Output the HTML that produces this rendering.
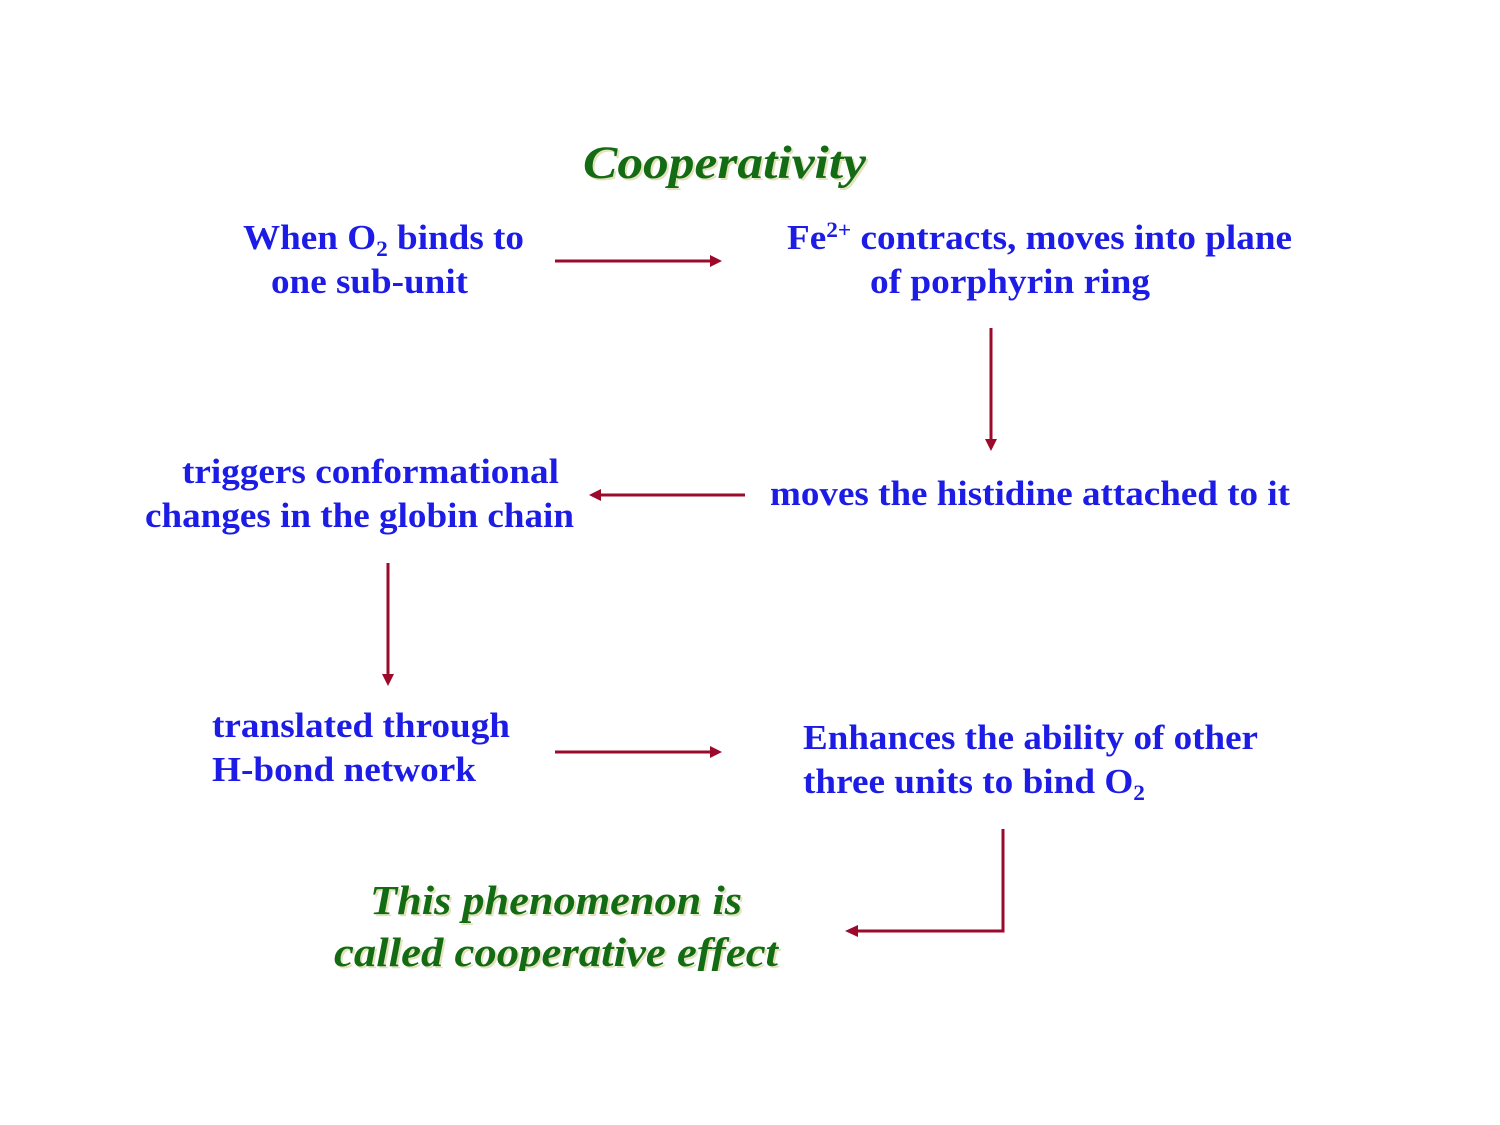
<!DOCTYPE html>
<html><head><meta charset="utf-8"><style>
html,body{margin:0;padding:0;background:#fff;width:1500px;height:1125px;overflow:hidden}
svg{display:block}
.b{font-family:"Liberation Serif",serif;font-weight:bold;font-size:35px;fill:#1c1ce6}
.g{font-family:"Liberation Serif",serif;font-weight:bold;font-style:italic;fill:#136b13}
.s{font-family:"Liberation Serif",serif;font-weight:bold;font-style:italic;fill:#e4e2bc}
.a{stroke:#9b0a2a;stroke-width:3;fill:none}
.h{fill:#9b0a2a}
</style></head><body>
<svg width="1500" height="1125" viewBox="0 0 1500 1125" xmlns="http://www.w3.org/2000/svg">
<text class="s" x="585" y="180" font-size="47" textLength="283" lengthAdjust="spacingAndGlyphs">Cooperativity</text>
<text class="g" x="583" y="178" font-size="47" textLength="283" lengthAdjust="spacingAndGlyphs">Cooperativity</text>

<text class="b" x="243" y="249" textLength="281" lengthAdjust="spacingAndGlyphs">When O<tspan font-size="22" dy="7">2</tspan><tspan dy="-7"> binds to</tspan></text>
<text class="b" x="271" y="293" textLength="197" lengthAdjust="spacingAndGlyphs">one sub-unit</text>
<text class="b" x="787" y="249" textLength="505" lengthAdjust="spacingAndGlyphs">Fe<tspan font-size="22" dy="-12">2+</tspan><tspan dy="12"> contracts, moves into plane</tspan></text>
<text class="b" x="870" y="293" textLength="280" lengthAdjust="spacingAndGlyphs">of porphyrin ring</text>
<text class="b" x="182" y="483" textLength="377" lengthAdjust="spacingAndGlyphs">triggers conformational</text>
<text class="b" x="145" y="527" textLength="429" lengthAdjust="spacingAndGlyphs">changes in the globin chain</text>
<text class="b" x="770" y="505" textLength="520" lengthAdjust="spacingAndGlyphs">moves the histidine attached to it</text>
<text class="b" x="212" y="737" textLength="298" lengthAdjust="spacingAndGlyphs">translated through</text>
<text class="b" x="212" y="781" textLength="264" lengthAdjust="spacingAndGlyphs">H-bond network</text>
<text class="b" x="803" y="749" textLength="455" lengthAdjust="spacingAndGlyphs">Enhances the ability of other</text>
<text class="b" x="803" y="793" textLength="342" lengthAdjust="spacingAndGlyphs">three units to bind O<tspan font-size="22" dy="7">2</tspan></text>

<text class="s" x="372" y="916" font-size="41" textLength="372" lengthAdjust="spacingAndGlyphs">This phenomenon is</text>
<text class="g" x="370" y="914" font-size="41" textLength="372" lengthAdjust="spacingAndGlyphs">This phenomenon is</text>
<text class="s" x="336" y="968" font-size="41" textLength="444" lengthAdjust="spacingAndGlyphs">called cooperative effect</text>
<text class="g" x="334" y="966" font-size="41" textLength="444" lengthAdjust="spacingAndGlyphs">called cooperative effect</text>
<rect x="300" y="971" width="520" height="30" fill="#fff"/>

<line class="a" x1="555" y1="261" x2="712" y2="261"/><polygon class="h" points="722,261 710,255 710,267"/>
<line class="a" x1="991" y1="328" x2="991" y2="440"/><polygon class="h" points="991,451 985,439 997,439"/>
<line class="a" x1="745" y1="495" x2="600" y2="495"/><polygon class="h" points="589,495 601,489 601,501"/>
<line class="a" x1="388" y1="563" x2="388" y2="675"/><polygon class="h" points="388,686 382,674 394,674"/>
<line class="a" x1="555" y1="752" x2="712" y2="752"/><polygon class="h" points="722,752 710,746 710,758"/>
<polyline class="a" stroke-width="4" points="1003,829 1003,931 856,931"/><polygon class="h" points="845,931 858,925 858,937"/>
</svg>
</body></html>
